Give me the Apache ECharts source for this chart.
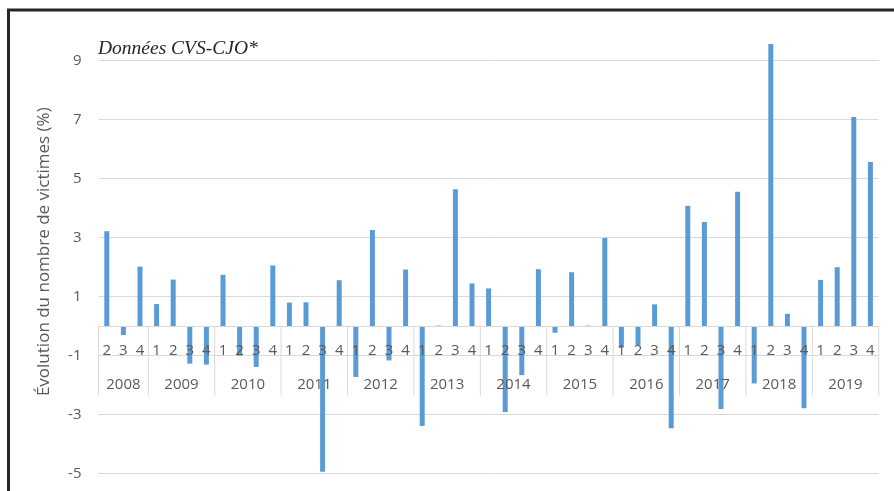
<!DOCTYPE html>
<html>
<head>
<meta charset="utf-8">
<script src="https://cdn.jsdelivr.net/npm/echarts@6/dist/echarts.min.js"></script>
<style>
  html, body { margin: 0; padding: 0; background: #fff; }
  #chart { width: 894px; height: 491px; }
</style>
</head>
<body>
<div id="chart"></div>
<script>
// ---- Data ----
const years = ['2008', '2009', '2010', '2011', '2012', '2013', '2014', '2015', '2016', '2017', '2018', '2019'];
const quarters = [
  ['2', '3', '4'],
  ['1', '2', '3', '4'],
  ['1', '2', '3', '4'],
  ['1', '2', '3', '4'],
  ['1', '2', '3', '4'],
  ['1', '2', '3', '4'],
  ['1', '2', '3', '4'],
  ['1', '2', '3', '4'],
  ['1', '2', '3', '4'],
  ['1', '2', '3', '4'],
  ['1', '2', '3', '4'],
  ['1', '2', '3', '4']
];
const values = [
  3.22, -0.30, 2.02,
  0.75, 1.58, -1.27, -1.30,
  1.74, -1.00, -1.38, 2.06,
  0.80, 0.81, -4.93, 1.56,
  -1.72, 3.26, -1.16, 1.92,
  -3.38, 0.02, 4.64, 1.45,
  1.28, -2.91, -1.66, 1.93,
  -0.22, 1.83, 0.02, 2.99,
  -0.73, -0.64, 0.74, -3.46,
  4.08, 3.53, -2.81, 4.56,
  -1.94, 9.57, 0.42, -2.78,
  1.57, 2.00, 7.09, 5.57
];
const yTickMin = -5, yTickMax = 11, yTickStep = 2;
const titleText = 'Données CVS-CJO*';
const yAxisTitle = 'Évolution du nombre de victimes (%)';

// ---- Derived structures ----
const categories = [];
const yearSpans = [];
let pos = 0;
years.forEach((y, i) => {
  const start = pos;
  quarters[i].forEach(q => { categories.push(y + '-' + q); pos++; });
  yearSpans.push([start, pos]);
});
const totalCats = categories.length;

const labelColor = '#595959';
const gridColor = '#D9D9D9';
const labelFont = '"Open Sans", "DejaVu Sans", sans-serif';

// layout: plot area 98.5..878.7 x, 1.7..473.7 y (value -5 at bottom, 11 at top)
const gridTop = 1.7, gridBottom = 17.3;
const plotHeight = 491 - gridTop - gridBottom;
const zeroOffset = -plotHeight * (0 - yTickMin) / (yTickMax - yTickMin);

const chart = echarts.init(document.getElementById('chart'), null, { renderer: 'canvas' });

chart.setOption({
  animation: false,
  backgroundColor: '#ffffff',
  title: {
    text: titleText,
    left: 98,
    top: 39,
    padding: 0,
    textStyle: {
      fontFamily: '"Liberation Serif", serif',
      fontStyle: 'italic',
      fontWeight: 'normal',
      fontSize: 19.5,
      color: '#262626'
    }
  },
  grid: {
    left: 98.5,
    right: 15.3,
    top: gridTop,
    bottom: gridBottom,
    containLabel: false,
    outerBoundsMode: 'none'
  },
  xAxis: [
    {
      type: 'category',
      data: categories,
      boundaryGap: true,
      position: 'bottom',
      offset: zeroOffset,
      z: 10,
      axisLine: { show: true, onZero: false, lineStyle: { color: gridColor, width: 1 } },
      axisTick: { show: false },
      splitLine: { show: false },
      axisLabel: {
        show: true,
        interval: 0,
        margin: 17,
        color: labelColor,
        fontSize: 15,
        fontFamily: labelFont,
        formatter: v => v.split('-')[1]
      }
    },
    {
      type: 'value',
      min: 0,
      max: totalCats,
      show: false,
      axisLine: { onZero: false }
    }
  ],
  yAxis: {
    type: 'value',
    min: yTickMin,
    max: yTickMax,
    interval: yTickStep,
    name: yAxisTitle,
    nameLocation: 'middle',
    nameGap: 46,
    nameTextStyle: {
      color: labelColor,
      fontSize: 17,
      fontFamily: labelFont,
      padding: [0, 28, 0, 0]
    },
    axisLine: { show: false, onZero: false },
    axisTick: { show: false },
    axisLabel: {
      color: labelColor,
      fontSize: 15,
      fontFamily: labelFont,
      margin: 17,
      showMaxLabel: false,
      showMinLabel: true
    },
    splitLine: {
      show: true,
      showMaxLine: false,
      lineStyle: { color: gridColor, width: 1 }
    }
  },
  series: [
    {
      type: 'bar',
      xAxisIndex: 0,
      yAxisIndex: 0,
      data: values,
      barWidth: 5,
      itemStyle: { color: '#5B9BD5' },
      z: 2
    },
    {
      type: 'custom',
      xAxisIndex: 1,
      yAxisIndex: 0,
      z: 10,
      silent: true,
      data: yearSpans,
      renderItem: function (params, api) {
        const s = api.value(0), e = api.value(1);
        const children = [];
        const sepBottom = -2.35;
        const labelY = -1.98;
        const a0 = api.coord([s, 0]), a1 = api.coord([s, sepBottom]);
        children.push({
          type: 'line',
          shape: { x1: a0[0], y1: a0[1], x2: a1[0], y2: a1[1] },
          style: { stroke: gridColor, lineWidth: 1 }
        });
        if (params.dataIndex === yearSpans.length - 1) {
          const b0 = api.coord([e, 0]), b1 = api.coord([e, sepBottom]);
          children.push({
            type: 'line',
            shape: { x1: b0[0], y1: b0[1], x2: b1[0], y2: b1[1] },
            style: { stroke: gridColor, lineWidth: 1 }
          });
        }
        const c = api.coord([(s + e) / 2, labelY]);
        children.push({
          type: 'text',
          x: c[0],
          y: c[1],
          style: {
            text: years[params.dataIndex],
            align: 'center',
            verticalAlign: 'middle',
            fill: labelColor,
            font: '15px ' + labelFont
          }
        });
        return { type: 'group', children: children };
      }
    }
  ],
  graphic: [
    {
      type: 'rect',
      silent: true,
      z: 100,
      shape: { x: 8.5, y: 10, width: 1000, height: 1000 },
      style: { fill: 'none', stroke: '#262626', lineWidth: 3 }
    }
  ]
});
</script>
</body>
</html>
